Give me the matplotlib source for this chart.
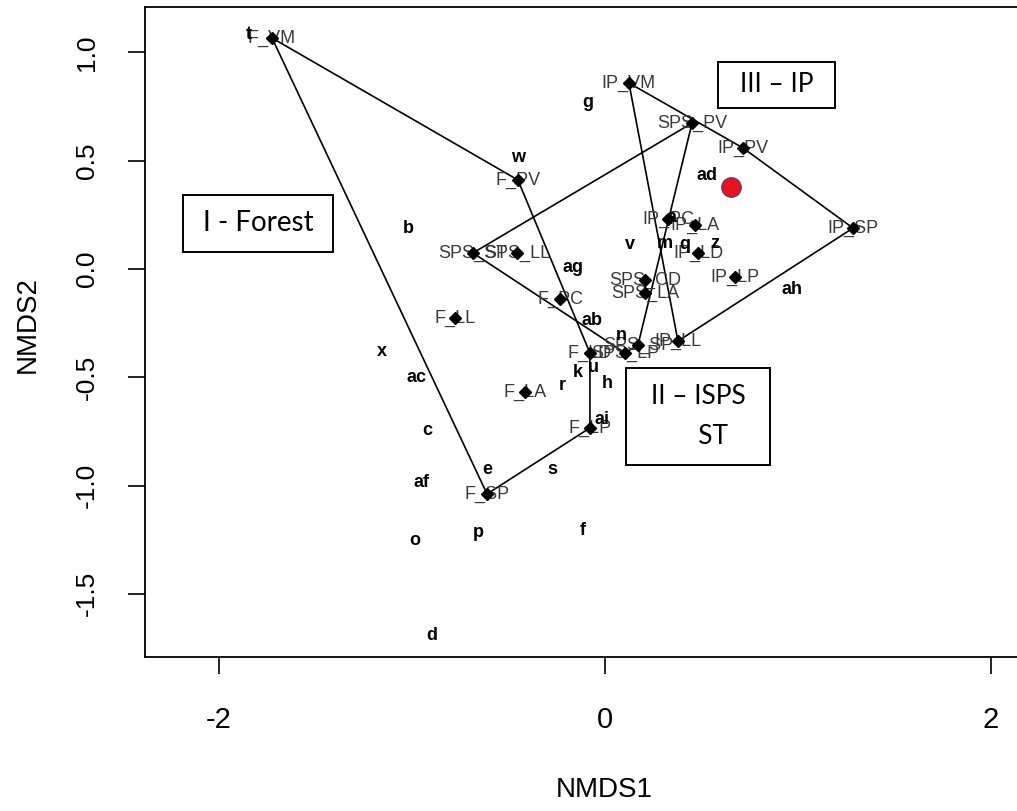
import matplotlib
matplotlib.use("Agg")
import matplotlib.pyplot as plt
from matplotlib.patches import Rectangle
import numpy as np

# ---- site scores (NMDS1, NMDS2) ----
site_names = ["F_VM", "F_PV", "F_PC", "F_LL", "F_LA", "F_LD", "F_LP", "F_SP",
              "SPS_ST", "SPS_LL", "SPS_PV", "SPS_CD", "SPS_LA", "SPS_SP", "SPS_LP",
              "IP_VM", "IP_PV", "IP_SP", "IP_PC", "IP_LA", "IP_LD", "IP_LP", "IP_LL"]
site_x = [-1.725, -0.451, -0.233, -0.777, -0.415, -0.078, -0.078, -0.611,
          -0.684, -0.456, 0.451, 0.207, 0.207, 0.171, 0.104,
          0.124, 0.715, 1.285, 0.326, 0.466, 0.482, 0.674, 0.378]
site_y = [1.067, 0.411, -0.139, -0.226, -0.568, -0.388, -0.734, -1.039,
          0.074, 0.074, 0.674, -0.051, -0.111, -0.351, -0.388,
          0.859, 0.559, 0.189, 0.231, 0.203, 0.074, -0.037, -0.333]
site_group = ["F"] * 8 + ["SPS"] * 7 + ["IP"] * 8

# ---- species scores ----
sp_names = ["t", "w", "b", "g", "ad", "v", "ag", "ab", "x", "ac", "c", "af", "o",
            "p", "f", "s", "e", "r", "k", "h", "ai", "ah", "z", "m", "q", "d",
            "n", "u", "a"]
sp_x = [-1.845, -0.451, -1.021, -0.088, 0.528, 0.130, -0.166, -0.067, -1.155,
        -0.979, -0.922, -0.948, -0.984, -0.658, -0.114, -0.275, -0.611, -0.223,
        -0.140, 0.010, -0.016, 0.969, 0.570, 0.308, 0.412, -0.896, 0.083, -0.062,
        0.347]
sp_y = [1.085, 0.513, 0.189, 0.771, 0.430, 0.111, 0.005, -0.240, -0.379,
        -0.503, -0.744, -0.984, -1.252, -1.215, -1.206, -0.928, -0.924, -0.536,
        -0.476, -0.527, -0.697, -0.097, 0.120, 0.120, 0.115, -1.691, -0.305,
        -0.457, 0.236]

# ---- highlighted point ----
hl_x = [0.653]
hl_y = [0.379]

# ---- group boxes ----
box_texts = ["I - Forest", "III \u2013 IP", "II \u2013 ISPS\n       ST"]
box_x0 = [-2.186, 0.585, 0.109]
box_x1 = [-1.409, 1.192, 0.855]
box_y0 = [0.0785, 0.744, -0.905]
box_y1 = [0.342, 0.956, -0.457]

x_ticks = [-2, 0, 2]
y_ticks = [-1.5, -1.0, -0.5, 0.0, 0.5, 1.0]
y_ticklabels = ["-1.5", "-1.0", "-0.5", "0.0", "0.5", "1.0"]


def convex_hull(pts):
    pts = sorted(set(pts))
    if len(pts) <= 2:
        return pts

    def cross(o, a, b):
        return (a[0] - o[0]) * (b[1] - o[1]) - (a[1] - o[1]) * (b[0] - o[0])

    lower = []
    for p in pts:
        while len(lower) >= 2 and cross(lower[-2], lower[-1], p) <= 0:
            lower.pop()
        lower.append(p)
    upper = []
    for p in reversed(pts):
        while len(upper) >= 2 and cross(upper[-2], upper[-1], p) <= 0:
            upper.pop()
        upper.append(p)
    return lower[:-1] + upper[:-1]


plt.rcParams['font.family'] = ['Liberation Sans', 'DejaVu Sans']

W, H = 1017, 811
fig = plt.figure(figsize=(W / 100, H / 100), dpi=100)
ax = fig.add_axes([145 / W, (H - 657) / H, (1020 - 145) / W, (657 - 7) / H])
ax.set_xlim(-2.383, 2.150)
ax.set_ylim(-1.792, 1.210)

# hulls
for g in ["F", "SPS", "IP"]:
    pts = [(x, y) for x, y, gg in zip(site_x, site_y, site_group) if gg == g]
    hull = convex_hull(pts)
    hx = [p[0] for p in hull] + [hull[0][0]]
    hy = [p[1] for p in hull] + [hull[0][1]]
    ax.plot(hx, hy, color='black', lw=1.2, zorder=2)

# site labels
for n, x, y in zip(site_names, site_x, site_y):
    ax.text(x, y, n, ha='center', va='center', fontsize=13, color='#3a3a3a',
            zorder=3)
ax.plot(site_x, site_y, linestyle='none', marker='D', markersize=6,
        color='black', zorder=4)

# species labels
for n, x, y in zip(sp_names, sp_x, sp_y):
    ax.text(x, y, n, ha='center', va='center', fontsize=13, fontweight='bold',
            color='black', zorder=3)

# highlighted
ax.plot(hl_x, hl_y, linestyle='none', marker='o', markersize=14,
        markerfacecolor='#e8141b', markeredgecolor='#6a3a78', markeredgewidth=1.0,
        zorder=5)

# group boxes
box_fs = [20, 19, 19]
for t, x0, x1, y0, y1, fs in zip(box_texts, box_x0, box_x1, box_y0, box_y1, box_fs):
    ax.add_patch(Rectangle((x0, y0), x1 - x0, y1 - y0, fill=False,
                           edgecolor='black', lw=1.4, zorder=3))
    ax.text((x0 + x1) / 2, (y0 + y1) / 2, t, ha='center', va='center',
            fontsize=fs, family=['Lato', 'DejaVu Sans'], linespacing=1.75,
            multialignment='left', zorder=3)

for s in ax.spines.values():
    s.set_linewidth(1.3)

ax.set_xticks(x_ticks)
ax.set_xticklabels([str(v) for v in x_ticks])
ax.set_yticks(y_ticks)
ax.set_yticklabels(y_ticklabels, rotation=90, va='center')
ax.tick_params(axis='both', direction='out', length=12, width=1.2)
ax.tick_params(axis='x', pad=23, labelsize=21)
ax.tick_params(axis='y', pad=21, labelsize=19)

fig.text(604 / W, 1 - 790 / H, "NMDS1", ha='center', va='center', fontsize=20)
fig.text(28 / W, 1 - 325 / H, "NMDS2", ha='center', va='center', fontsize=20,
         rotation=90)

fig.savefig("out.png", dpi=100)
